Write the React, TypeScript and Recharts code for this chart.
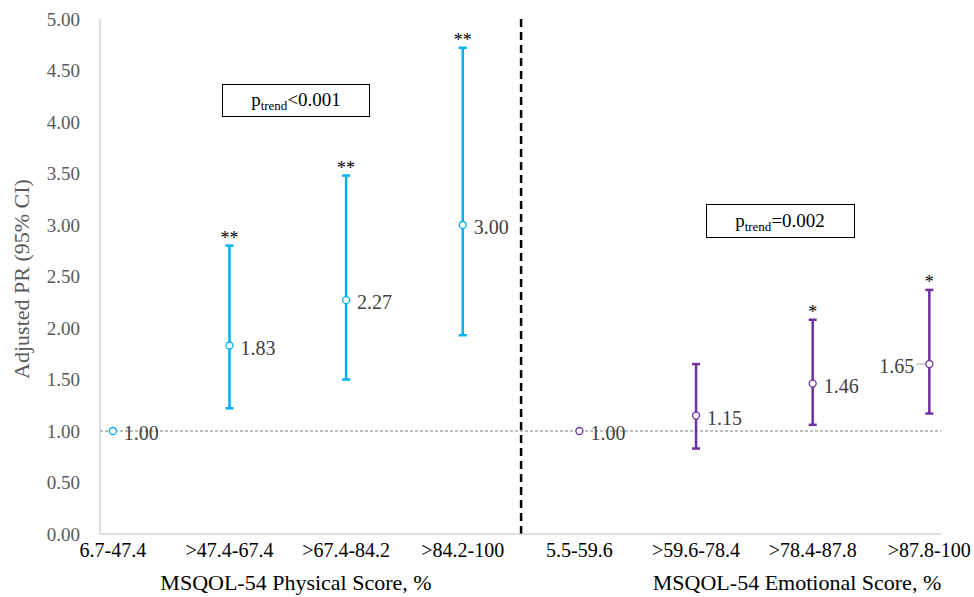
import React from 'react';
import { ComposedChart, Scatter, XAxis, YAxis, ErrorBar, ReferenceLine, Customized } from 'recharts';

const FONT = '"Liberation Serif", "Times New Roman", serif';

const CATEGORIES = ['6.7-47.4', '>47.4-67.4', '>67.4-84.2', '>84.2-100', '5.5-59.6', '>59.6-78.4', '>78.4-87.8', '>87.8-100'];

const PHYS_PR = [1.0, 1.83, 2.27, 3.0];
const PHYS_LOW = [null, 1.22, 1.5, 1.93];
const PHYS_HIGH = [null, 2.8, 3.48, 4.72];
const PHYS_SIG = ['', '**', '**', '**'];

const EMO_PR = [1.0, 1.15, 1.46, 1.65];
const EMO_LOW = [null, 0.83, 1.06, 1.17];
const EMO_HIGH = [null, 1.65, 2.08, 2.37];
const EMO_SIG = ['', '', '*', '*'];

const Y_TICKS = [0, 0.5, 1, 1.5, 2, 2.5, 3, 3.5, 4, 4.5, 5];

const PHYS_COLOR = '#00B0F0';
const EMO_COLOR = '#7030A0';

// layout: which value label sits to the left of its point
const LEFT_LABEL = { emo: [3] };

type Pt = { x: number; y: number; err: number[] | null; high: number | null; sig: string; left: boolean };

function buildSeries(pr: number[], low: (number | null)[], high: (number | null)[], sig: string[], offset: number, leftIdx: number[] = []): Pt[] {
  return pr.map((v, i) => ({
    x: i + offset,
    y: v,
    err: low[i] == null ? null : [v - (low[i] as number), (high[i] as number) - v],
    high: high[i],
    sig: sig[i],
    left: leftIdx.includes(i),
  }));
}

const physData = buildSeries(PHYS_PR, PHYS_LOW, PHYS_HIGH, PHYS_SIG, 0);
const emoData = buildSeries(EMO_PR, EMO_LOW, EMO_HIGH, EMO_SIG, 4, LEFT_LABEL.emo);

const sigData = [...physData, ...emoData]
  .filter((d) => d.sig)
  .map((d) => ({ x: d.x, y: d.high as number, sig: d.sig }));

const makeMarker = (color: string) => (props: any) => {
  const { cx, cy, payload } = props;
  if (cx == null || cy == null) return null;
  const left = payload.left;
  return (
    <g>
      <circle cx={cx} cy={cy} r={3.5} fill="#fff" stroke={color} strokeWidth={1.3} />
      {left ? <line x1={cx - 4} y1={cy} x2={cx - 13} y2={cy} stroke="#a6a6a6" strokeWidth={1} /> : null}
      <text
        x={left ? cx - 15 : cx + 11}
        y={cy + 9}
        textAnchor={left ? 'end' : 'start'}
        fontFamily={FONT}
        fontSize={20}
        fill="#404040"
      >
        {payload.y.toFixed(2)}
      </text>
    </g>
  );
};

const sigShape = (props: any) => {
  const { cx, cy, payload } = props;
  if (cx == null || cy == null) return null;
  return (
    <text x={cx} y={cy - 2} textAnchor="middle" fontFamily={FONT} fontSize={18} fill="#000">
      {payload.sig}
    </text>
  );
};

const Annotations = () => (
  <g fontFamily={FONT}>
    <rect x={222.5} y={84.5} width={147} height={32} fill="#fff" stroke="#000" strokeWidth={1} />
    <text x={296} y={106} textAnchor="middle" fontSize={19} fill="#000">
      p<tspan fontSize={13} dy={4}>trend</tspan>
      <tspan dy={-4}>&lt;0.001</tspan>
    </text>
    <rect x={706.5} y={204.5} width={148} height={33} fill="#fff" stroke="#000" strokeWidth={1} />
    <text x={780} y={227} textAnchor="middle" fontSize={19} fill="#000">
      p<tspan fontSize={13} dy={4}>trend</tspan>
      <tspan dy={-4}>=0.002</tspan>
    </text>
    <text x={296} y={590} textAnchor="middle" fontSize={22} fill="#000">
      MSQOL-54 Physical Score, %
    </text>
    <text x={797} y={590} textAnchor="middle" fontSize={22} fill="#000">
      MSQOL-54 Emotional Score, %
    </text>
    <text x={29} y={279} textAnchor="middle" fontSize={22} fill="#595959" transform="rotate(-90 29 279)">
      Adjusted PR (95% CI)
    </text>
  </g>
);

export default function App() {
  return (
    <div style={{ position: 'absolute', left: 0, top: 0, width: 974, height: 597, background: '#fff' }}>
      <ComposedChart width={974} height={597} margin={{ top: 19, right: 33, bottom: 33, left: 0 }}>
        <XAxis
          type="number"
          dataKey="x"
          domain={[-0.11, 7.1]}
          ticks={CATEGORIES.map((_, i) => i)}
          tickFormatter={(v: number) => CATEGORIES[v] ?? ''}
          interval={0}
          allowDataOverflow
          height={30}
          stroke="#BFBFBF"
          tickLine={false}
          tickSize={6}
          tickMargin={3}
          tick={{ fill: '#000', fontSize: 20, fontFamily: FONT }}
        />
        <YAxis
          type="number"
          domain={[0, 5]}
          ticks={Y_TICKS}
          interval={0}
          width={100}
          tickFormatter={(v: number) => v.toFixed(2)}
          stroke="#BFBFBF"
          tickLine={false}
          tickSize={10}
          tickMargin={10}
          tick={{ fill: '#595959', fontSize: 19, fontFamily: FONT }}
        />
        <ReferenceLine y={1} stroke="#7F7F7F" strokeDasharray="3 2" strokeWidth={1} />
        <ReferenceLine x={3.5} stroke="#000" strokeDasharray="8 5" strokeWidth={2.5} />
        <Scatter data={physData} dataKey="y" isAnimationActive={false} shape={makeMarker(PHYS_COLOR)}>
          <ErrorBar dataKey="err" direction="y" width={4} stroke={PHYS_COLOR} strokeWidth={2.5} isAnimationActive={false} />
        </Scatter>
        <Scatter data={emoData} dataKey="y" isAnimationActive={false} shape={makeMarker(EMO_COLOR)}>
          <ErrorBar dataKey="err" direction="y" width={4} stroke={EMO_COLOR} strokeWidth={2.5} isAnimationActive={false} />
        </Scatter>
        <Scatter data={sigData} dataKey="y" isAnimationActive={false} shape={sigShape} />
        <Customized component={<Annotations />} />
      </ComposedChart>
    </div>
  );
}
